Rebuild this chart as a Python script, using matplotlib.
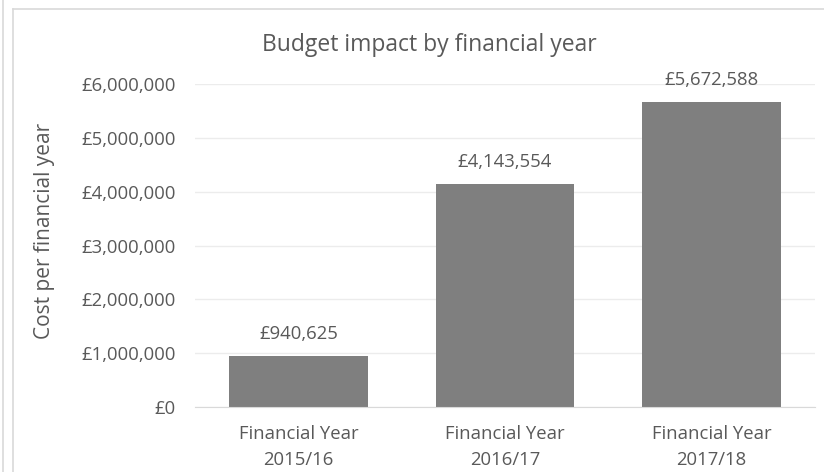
import matplotlib
matplotlib.use('Agg')
from matplotlib import pyplot as plt
from matplotlib.lines import Line2D


# budget figures per financial year

years = ['Financial Year\n2015/16', 'Financial Year\n2016/17', 'Financial Year\n2017/18']
costs = [940625, 4143554, 5672588]
yticks = [0, 1000000, 2000000, 3000000, 4000000, 5000000, 6000000]

text_grey = '#595959'
line_grey = '#d9d9d9'
bar_grey = '#7f7f7f'

plt.rcParams['font.family'] = ['Open Sans', 'DejaVu Sans']

fig = plt.figure(figsize=(8.24, 4.72), dpi=100)
ax = fig.add_axes([195/824, 1 - 407/472, 620/824, 323/472])

x = range(len(years))
ax.bar(x, costs, width=0.67, color=bar_grey, zorder=2)

# value labels above each bar
for i, c in zip(x, costs):
    ax.text(i, c + 410000, '£{:,}'.format(c), ha='center', va='center',
            fontsize=13.3, color=text_grey, clip_on=False)

ax.set_xlim(-0.5, 2.5)
ax.set_ylim(0, 6000000)
ax.set_yticks(yticks)
ax.set_yticklabels(['£{:,}'.format(v) for v in yticks], fontsize=13.3, color=text_grey)
ax.set_xticks(list(x))
ax.set_xticklabels(years, fontsize=13.3, color=text_grey, linespacing=1.6)
ax.tick_params(axis='both', length=0)
ax.tick_params(axis='y', pad=14)
ax.tick_params(axis='x', pad=13)

ax.grid(axis='y', color='#ececec', linewidth=1, zorder=0)
for s in ['top', 'right', 'left']:
    ax.spines[s].set_visible(False)
ax.spines['bottom'].set_color(line_grey)
ax.spines['bottom'].set_zorder(3)

fig.text(45/824, 1 - 231/472, 'Cost per financial year', rotation=90, ha='center', va='center',
         fontsize=15, color=text_grey)
fig.text(429/824, 1 - 45/472, 'Budget impact by financial year', ha='center', va='center',
         fontsize=16.5, color=text_grey)

# chart border lines
fig.add_artist(Line2D([3/824, 3/824], [0, 1], color=line_grey, linewidth=1.2))
fig.add_artist(Line2D([13/824, 13/824], [0, 1 - 9/472], color=line_grey, linewidth=1.2))
fig.add_artist(Line2D([13/824, 1], [1 - 9/472, 1 - 9/472], color=line_grey, linewidth=1.2))

plt.savefig('out.png', dpi=100)
